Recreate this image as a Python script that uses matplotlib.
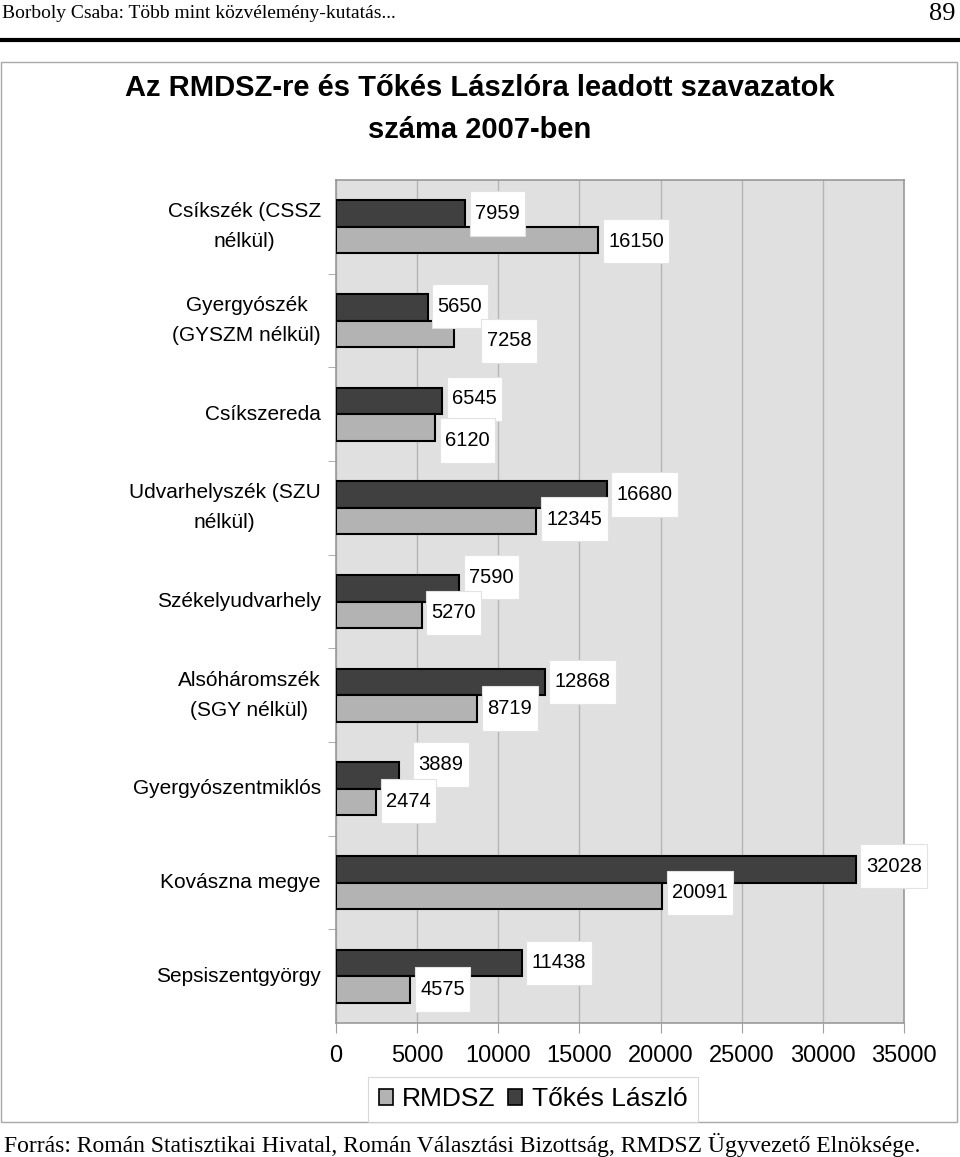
import matplotlib
matplotlib.use("Agg")
import matplotlib.pyplot as plt
from matplotlib.patches import Rectangle, Patch
from matplotlib.lines import Line2D
from matplotlib.path import Path
import numpy as np

# data
categories = [
    "Csíkszék (CSSZ\nnélkül)",
    "Gyergyószék\n(GYSZM nélkül)",
    "Csíkszereda",
    "Udvarhelyszék (SZU\nnélkül)",
    "Székelyudvarhely",
    "Alsóháromszék\n(SGY nélkül)",
    "Gyergyószentmiklós",
    "Kovászna megye",
    "Sepsiszentgyörgy",
]
tokes = [7959, 5650, 6545, 16680, 7590, 12868, 3889, 32028, 11438]
rmdsz = [16150, 7258, 6120, 12345, 5270, 8719, 2474, 20091, 4575]
x_ticks = [0, 5000, 10000, 15000, 20000, 25000, 30000, 35000]

title = "Az RMDSZ-re és Tőkés Lászlóra leadott szavazatok\nszáma 2007-ben"
header = "Borboly Csaba: Több mint közvélemény-kutatás..."
page_no = "89"
footer = ("Forrás: Román Statisztikai Hivatal, Román Választási Bizottság, "
          "RMDSZ Ügyvezető Elnöksége.")

# hand-moved data labels (pixel nudges, + = right / down)
tokes_nudge = [(0, 0), (0, -1), (0, -2), (0, 0), (0, -11), (0, 0), (9, -11), (0, -3), (0, 0)]
rmdsz_nudge = [(0, 1), (23, 7), (0, 13), (0, -2), (0, -2), (0, 0), (0, -1), (0, -3), (0, 0)]

DARK = "#404040"
LIGHT = "#b3b3b3"
W, H = 960, 1157

plt.rcParams["font.family"] = ["Liberation Sans", "DejaVu Sans"]

fig = plt.figure(figsize=(W / 100, H / 100), dpi=100)
fig.patch.set_facecolor("white")


def fx(px):
    return px / W


def fy(py):
    return 1 - py / H


# page header
fig.text(fx(2), fy(14), header, family="Liberation Serif", fontsize=14,
         ha="left", va="center")
fig.text(fx(956), fy(14), page_no, family="Liberation Serif", fontsize=19,
         ha="right", va="center")
fig.add_artist(Line2D([0, fx(958)], [fy(40), fy(40)], lw=3, color="black"))

# chart frame
fig.add_artist(Rectangle((fx(1), fy(1122)), fx(957) - fx(1), fy(62) - fy(1122),
                         transform=fig.transFigure, fill=False,
                         ec="#a8a8a8", lw=1))

fig.text(0.5, fy(109), title, ha="center", va="center", fontsize=21,
         fontweight="bold", linespacing=1.65)

ax = fig.add_axes([fx(336), fy(1023), fx(904) - fx(336), fy(180) - fy(1023)])
ax.set_facecolor("#e0e0e0")

n = len(categories)
y = np.arange(n)
bh = 0.283

ax.barh(y - bh / 2, tokes, height=bh, color=DARK, edgecolor="black",
        lw=1.5, zorder=3)
ax.barh(y + bh / 2, rmdsz, height=bh, color=LIGHT, edgecolor="black",
        lw=1.5, zorder=3)


def label_box(x0, y0, width, height, mutation_size):
    px = 0.27 * mutation_size
    py = 0.63 * mutation_size
    x0, y0 = x0 - px, y0 - py
    x1, y1 = x0 + width + 2 * px, y0 + height + 2 * py
    return Path([(x0, y0), (x1, y0), (x1, y1), (x0, y1), (x0, y0)],
                closed=True)


for vals, off, nudges in ((tokes, -bh / 2, tokes_nudge),
                          (rmdsz, bh / 2, rmdsz_nudge)):
    for i, v in enumerate(vals):
        dx, dy = nudges[i]
        ax.annotate(str(v), xy=(v, i + off), xytext=(10 + dx, -dy),
                    textcoords="offset pixels", ha="left", va="center",
                    fontsize=14.5, zorder=5, annotation_clip=False,
                    bbox=dict(boxstyle=label_box, fc="white",
                              ec="#e2e2e2", lw=0.8))

ax.set_xlim(0, 35000)
ax.set_ylim(n - 0.5, -0.5)
ax.set_xticks(x_ticks)
ax.set_xticklabels([str(t) for t in x_ticks])
ax.set_yticks(y)
ax.set_yticklabels(categories, multialignment="center", linespacing=1.75)
for lbl in ax.get_yticklabels():
    lbl.set_va("center")
ax.set_yticks(np.arange(n - 1) + 0.5, minor=True)
ax.tick_params(axis="y", which="major", length=0, pad=11, labelsize=15)
ax.tick_params(axis="y", which="minor", length=6, color="#a0a0a0",
               direction="out")
ax.tick_params(axis="x", length=7, color="#a0a0a0", pad=9, labelsize=17)
ax.grid(axis="x", color="#b5b5b5", lw=1, zorder=1)
ax.set_axisbelow(True)
for s in ax.spines.values():
    s.set_color("#9a9a9a")
    s.set_linewidth(1.2)

handles = [Patch(fc=LIGHT, ec="black", lw=1.2, label="RMDSZ"),
           Patch(fc=DARK, ec="black", lw=1.2, label="Tőkés László")]
leg = fig.legend(handles=handles, loc="lower left", ncol=2,
                 bbox_to_anchor=(fx(368), fy(1122)),
                 bbox_transform=fig.transFigure, borderaxespad=0,
                 fontsize=19, frameon=True, fancybox=False,
                 handlelength=0.55, handleheight=0.55, handletextpad=0.35,
                 columnspacing=0.45, borderpad=0.4)
leg.get_frame().set_edgecolor("#d0d0d0")
leg.get_frame().set_linewidth(0.8)

fig.text(fx(4), fy(1145), footer, family="Liberation Serif", fontsize=17,
         ha="left", va="center")

fig.savefig("out.png", dpi=100)
